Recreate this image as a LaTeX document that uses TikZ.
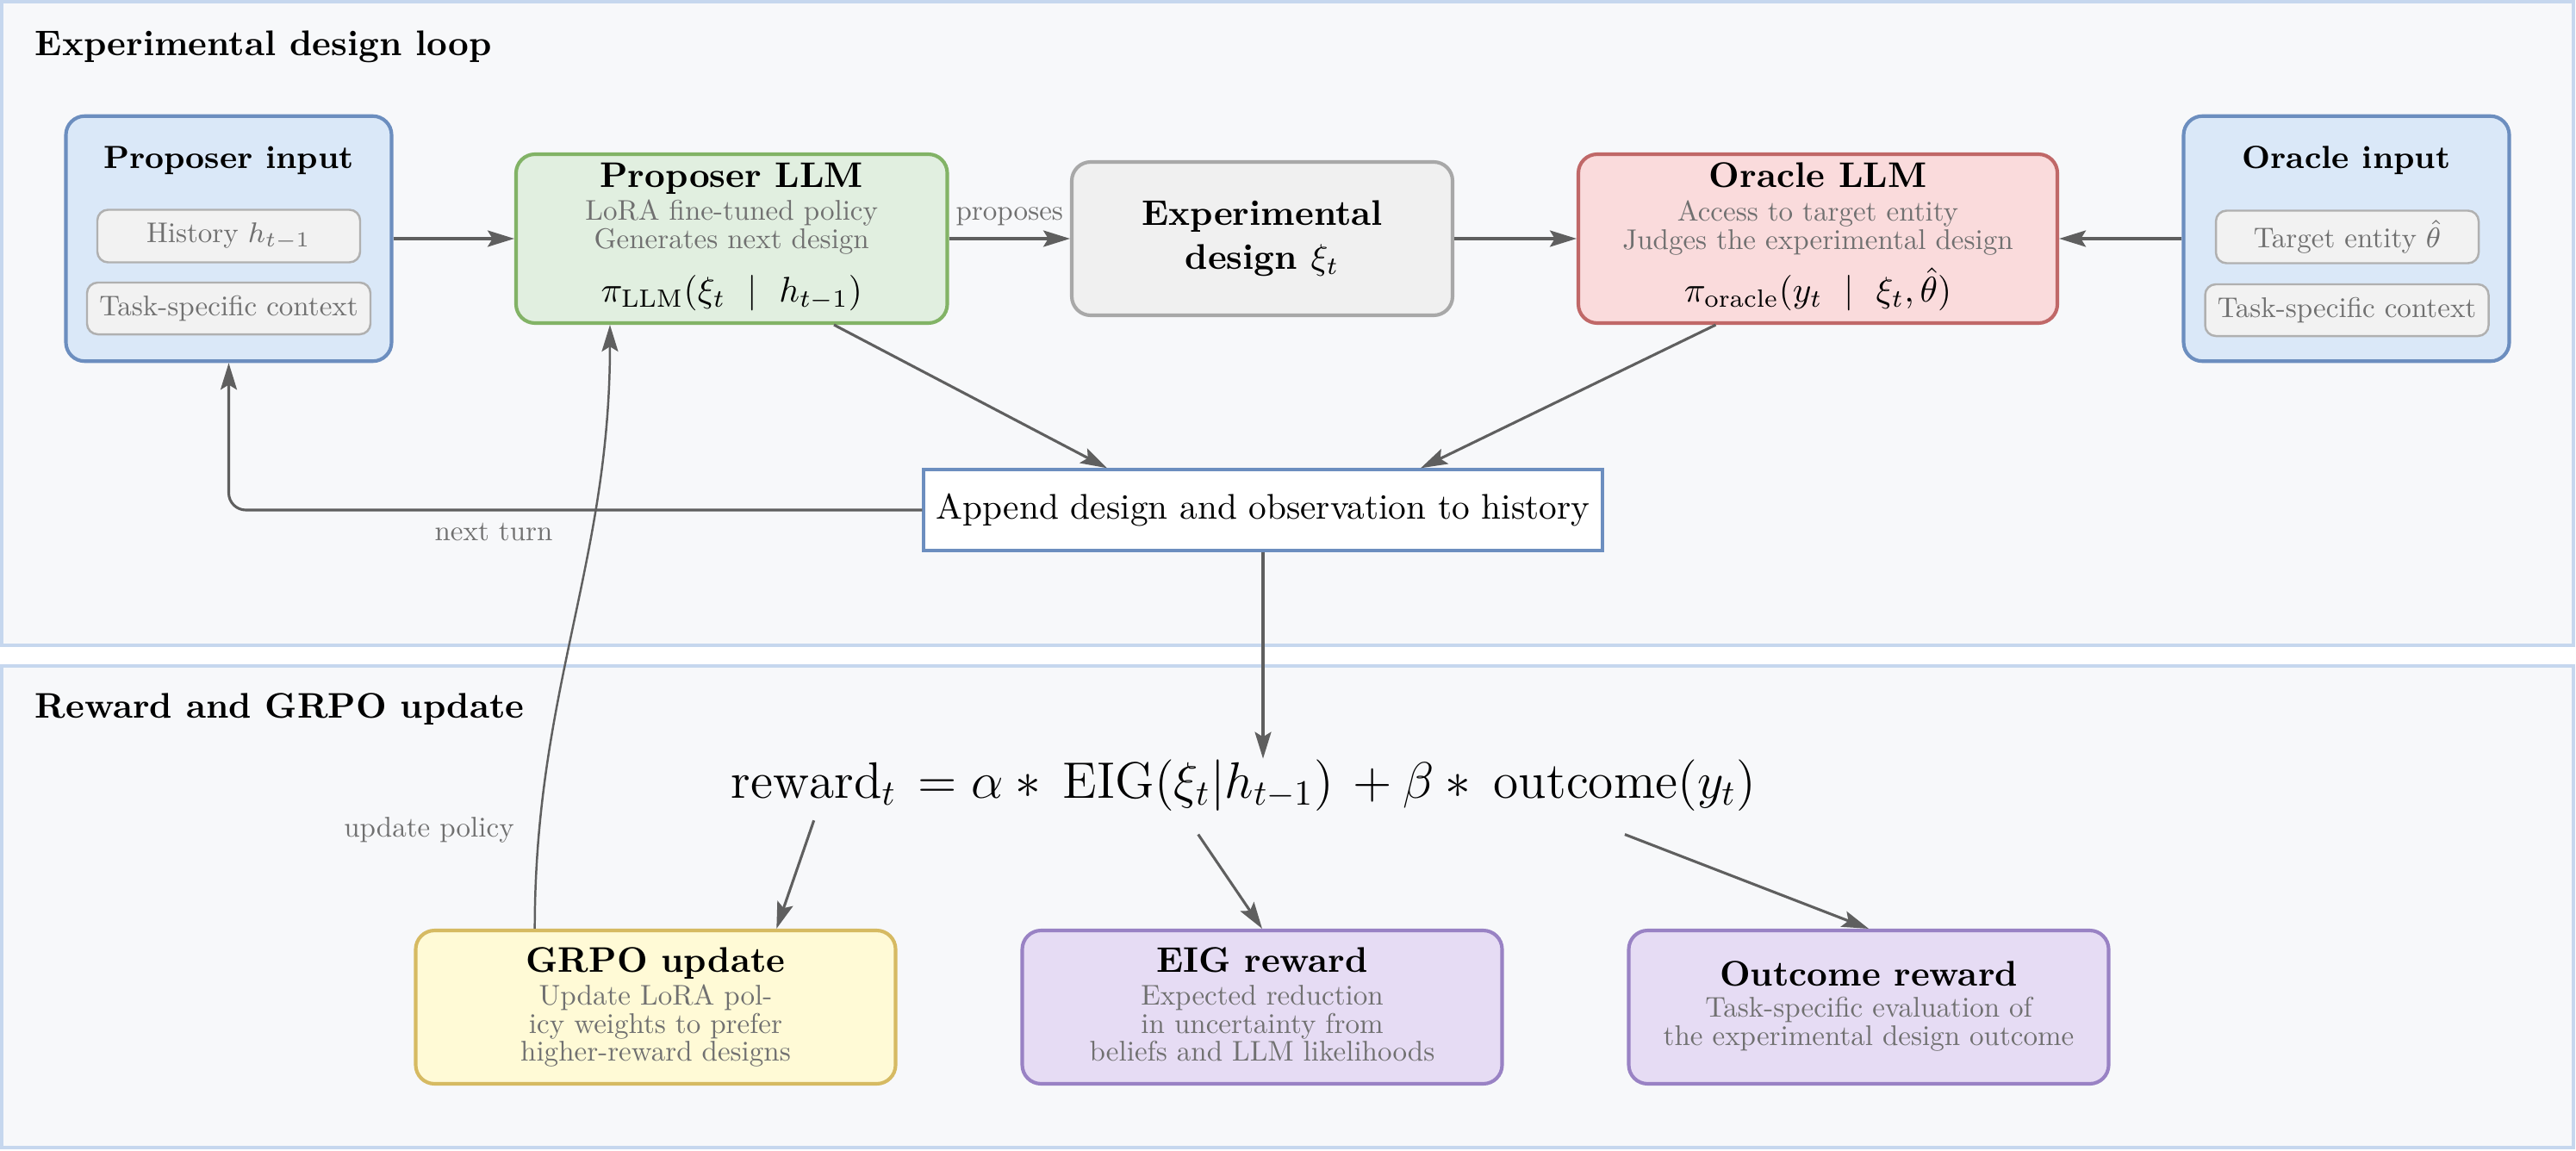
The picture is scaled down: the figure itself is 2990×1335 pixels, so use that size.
\documentclass[tikz,border=0pt]{standalone}
\usepackage{fontspec}
\usepackage{amsmath}
\newfontfamily\gfont{lmroman10-regular.otf}
\usetikzlibrary{arrows.meta,calc}
\definecolor{panelb}{HTML}{C6D7EE}
\definecolor{panelf}{HTML}{F7F8FA}
\definecolor{bluef}{HTML}{DAE8F8}
\definecolor{blueb}{HTML}{6C8EBF}
\definecolor{greenf}{HTML}{E1EFE0}
\definecolor{greenb}{HTML}{82B366}
\definecolor{greyf}{HTML}{F0F0F0}
\definecolor{greyb}{HTML}{A8A8A8}
\definecolor{redf}{HTML}{FADBDC}
\definecolor{redb}{HTML}{C06868}
\definecolor{yellowf}{HTML}{FFFAD6}
\definecolor{yellowb}{HTML}{D6BA62}
\definecolor{purplef}{HTML}{E6DCF4}
\definecolor{purpleb}{HTML}{9982C4}
\definecolor{smallf}{HTML}{F2F2F2}
\definecolor{smallb}{HTML}{B0B0B0}
\definecolor{arrc}{HTML}{5F5F5F}
\definecolor{greyt}{HTML}{707070}
\tikzset{
  panel/.style={draw=panelb, fill=panelf, line width=0.75pt},
  bigbox/.style={rounded corners=5.3pt, line width=1pt, inner sep=0pt},
  smallbox/.style={rounded corners=3pt, line width=0.6pt, draw=smallb, fill=smallf, inner sep=0pt, text=greyt, font=\gfont\fontsize{8}{8}\selectfont},
  ttl/.style={font=\bfseries, anchor=base, inner sep=0pt},
  subttl/.style={font=\small\bfseries, anchor=base, inner sep=0pt},
  gtxt/.style={text=greyt, font=\gfont\fontsize{8}{8}\selectfont, anchor=base, inner sep=0pt},
  mtxt/.style={anchor=base, inner sep=0pt},
  fml/.style={font=\Large, anchor=base west, inner sep=0pt},
  arr/.style={draw=arrc, line width=0.75pt, -{Stealth[length=7.5pt,width=4.6pt,inset=1.4pt]}},
}
\begin{document}
\begin{tikzpicture}[x=0.2421pt,y=-0.2421pt]
\useasboundingbox (0,0) rectangle (2990,1335);
\fill[white] (0,0) rectangle (2990,1335);
% panels
\draw[panel] (2,2) rectangle (2987,749);
\draw[panel] (2,773) rectangle (2987,1332);
\node[ttl, anchor=base west] (t1) at (40,65) {Experimental design loop};
\node[ttl, anchor=base west] (t2) at (40,833) {Reward and GRPO update};

% proposer input
\node[bigbox, fill=bluef, draw=blueb, minimum width=91.51pt, minimum height=68.88pt] (pin) at (265.5,277) {};
\node[subttl] (pint) at (265.5,196) {Proposer input};
\node[smallbox, minimum width=73.84pt, minimum height=14.77pt] (hist) at (265.5,274) {History $h_{t-1}$};
\node[smallbox, minimum width=79.65pt, minimum height=14.53pt] (taskl) at (265.5,358) {Task-specific context};

% proposer LLM
\node[bigbox, fill=greenf, draw=greenb, minimum width=121.17pt, minimum height=47.45pt] (plm) at (849.25,277) {};
\node[ttl] (plmt) at (849.25,218) {Proposer LLM};
\node[gtxt] (plm1) at (849.25,255) {LoRA fine-tuned policy};
\node[gtxt] (plm2) at (849.25,289) {Generates next design};
\node[mtxt] (plmf) at (849.25,350) {$\pi_{\mathrm{LLM}}(\xi_t\ \mid\ h_{t-1})$};

% experimental design
\node[bigbox, fill=greyf, draw=greyb, minimum width=107pt, minimum height=43.09pt] (exd) at (1465,277) {};
\node[ttl] (exd1) at (1465,261) {Experimental};
\node[ttl] (exd2) at (1465,312) {design $\xi_t$};

% oracle LLM
\node[bigbox, fill=redf, draw=redb, minimum width=134.61pt, minimum height=47.45pt] (olm) at (2110,277) {};
\node[ttl] (olmt) at (2110,218) {Oracle LLM};
\node[gtxt] (olm1) at (2110,256) {Access to target entity};
\node[gtxt] (olm2) at (2110,290) {Judges the experimental design};
\node[mtxt] (olmf) at (2110,350) {$\pi_{\mathrm{oracle}}(y_t\ \mid\ \xi_t,\hat{\theta})$};

% oracle input
\node[bigbox, fill=bluef, draw=blueb, minimum width=91.51pt, minimum height=68.88pt] (oin) at (2723.5,277) {};
\node[subttl] (oint) at (2723.5,196) {Oracle input};
\node[smallbox, minimum width=73.84pt, minimum height=14.77pt] (targ) at (2724.5,275) {Target entity $\hat{\theta}$};
\node[smallbox, minimum width=79.65pt, minimum height=14.53pt] (taskr) at (2724,360) {Task-specific context};

% append
\node[draw=blueb, fill=white, line width=0.8pt, minimum width=190.77pt, minimum height=22.76pt, inner sep=0pt] (app) at (1466,592) {Append design and observation to history};

% formula
\node[fml] (rw) at (848,926) {$\mathrm{reward}_t$};
\node[fml] (eq) at (1065,926) {$=\alpha*{}$};
\node[fml] (eig) at (1233,926) {$\mathrm{EIG}(\xi_t|h_{t-1})$};
\node[fml] (pl) at (1556,926) {${}+\beta*{}$};
\node[fml] (out) at (1733,926) {$\mathrm{outcome}(y_t)$};

% bottom boxes
\node[bigbox, fill=yellowf, draw=yellowb, minimum width=134.85pt, minimum height=43.09pt] (grpo) at (761,1169) {};
\node[ttl] (grpot) at (761,1128.5) {GRPO update};
\node[gtxt] (grpo1) at (761,1166.5) {Update LoRA pol-};
\node[gtxt] (grpo2) at (761,1199.5) {icy weights to prefer};
\node[gtxt] (grpo3) at (761,1231.5) {higher-reward designs};

\node[bigbox, fill=purplef, draw=purpleb, minimum width=134.85pt, minimum height=43.09pt] (eigb) at (1465,1169) {};
\node[ttl] (eigt) at (1465,1128.5) {EIG reward};
\node[gtxt] (eig1) at (1465,1166.5) {Expected reduction};
\node[gtxt] (eig2) at (1465,1199.5) {in uncertainty from};
\node[gtxt] (eig3) at (1465,1231.5) {beliefs and LLM likelihoods};

\node[bigbox, fill=purplef, draw=purpleb, minimum width=134.85pt, minimum height=43.09pt] (outb) at (2169,1169) {};
\node[ttl] (outt) at (2169,1144) {Outcome reward};
\node[gtxt] (out1) at (2169,1180) {Task-specific evaluation of};
\node[gtxt] (out2) at (2169,1213) {the experimental design outcome};

% connectors
\draw[arr] (pin) -- (plm);
\draw[arr] (plm) -- node[gtxt, midway, yshift=5.1pt] (prop) {proposes} (exd);
\draw[arr] (exd) -- (olm);
\draw[arr] (oin) -- (olm);
\draw[arr] ([xshift=28.75pt]plm.south) -- ([xshift=-43.8pt]app.north);
\draw[arr] ([xshift=-28.7pt]olm.south) -- ([xshift=44.3pt]app.north);
\draw[arr, rounded corners=4.8pt] (app.west) -| (pin.south);
\node[gtxt] (nt) at (573,627) {next turn};
\draw[arr] (app.south) -- (app.south |- eig.north);
\draw[arr, line width=0.6pt] ($(grpo.north)!0.5!(grpo.north west)$) to[out=90,in=-90] ([xshift=-34.2pt]plm.south);
\node[gtxt] (up) at (498,971) {update policy};
\draw[arr] ([yshift=-4pt]rw.south) -- ($(grpo.north)!0.5!(grpo.north east)$);
\draw[arr] ([yshift=-6.5pt]eig.south) -- (eigb.north);
\draw[arr] ([yshift=-6.5pt]out.south) -- (outb.north);
\end{tikzpicture}
\end{document}
